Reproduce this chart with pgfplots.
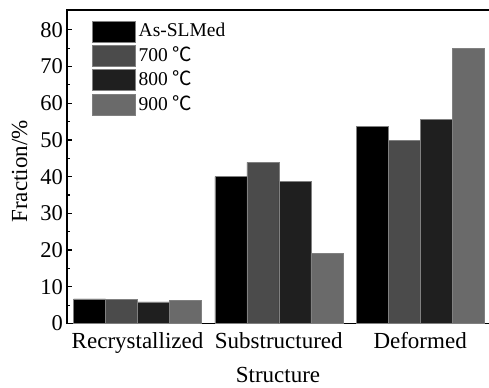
\documentclass[border=0pt]{standalone}
\usepackage{pgfplots}
\pgfplotsset{compat=1.18}
\usepackage{fontspec}
\setmainfont{Liberation Serif}
\newfontfamily\cjk{Noto Sans CJK SC}

\definecolor{cAs}{HTML}{000000}
\definecolor{cSeven}{HTML}{4B4B4B}
\definecolor{cEight}{HTML}{1F1F1F}
\definecolor{cNine}{HTML}{6A6A6A}

\newcommand{\degC}{\hspace{5bp}{\cjk ℃}}

\begin{document}
\begin{tikzpicture}
\begin{axis}[
  at={(0,0)}, anchor=south west,
  scale only axis,
  width=430bp, height=313.5bp,
  xmin=-0.499, xmax=2.544,
  ymin=0, ymax=85.4,
  ybar=0pt, bar width=32bp,
  xtick={0,1,2},
  xticklabels={Recrystallized,Substructured,Deformed},
  xtick style={draw=none},
  ytick={0,10,...,80},
  minor y tick num=1,
  ytick pos=left,
  tick align=inside,
  major tick length=5bp, minor tick length=3bp,
  tick style={black, line width=1.2bp},
  axis line style={black, line width=1.6bp},
  /pgf/number format/assume math mode=true,
  yticklabel style={font=\fontsize{22.5bp}{26bp}\selectfont, inner xsep=0pt, xshift=-4bp},
  xticklabel style={font=\fontsize{23bp}{27bp}\selectfont, anchor=base, yshift=-24.5bp},
  xlabel={Structure},
  ylabel={Fraction/\%},
  every axis x label/.style={at={(axis description cs:0.4907,0)}, anchor=base, yshift=-58.5bp, font=\fontsize{23bp}{27bp}\selectfont},
  every axis y label/.style={at={(axis description cs:-0.093,0.485)}, rotate=90, anchor=base, font=\fontsize{23bp}{27bp}\selectfont},
  legend image code/.code={\draw[#1] (0bp,-11.5bp) rectangle (43bp,9.5bp);},
  legend cell align=left,
  legend style={at={(axis description cs:0.058,0.966)}, anchor=north west,
    draw=none, fill=none, inner sep=0pt, row sep=2.7bp,
    font=\fontsize{19.5bp}{23bp}\selectfont,
    nodes={inner ysep=0pt, inner xsep=3bp}},
]
\addplot[fill=cAs, draw=gray, line width=0.6bp] coordinates {(0,6.7) (1,40.0) (2,53.6)};
\addplot[fill=cSeven, draw=gray, line width=0.6bp] coordinates {(0,6.5) (1,43.9) (2,49.8)};
\addplot[fill=cEight, draw=gray, line width=0.6bp] coordinates {(0,5.9) (1,38.8) (2,55.6)};
\addplot[fill=cNine, draw=gray, line width=0.6bp] coordinates {(0,6.2) (1,19.1) (2,75.0)};
\legend{As-SLMed, 700\degC, 800\degC, 900\degC}
\end{axis}
\pgfresetboundingbox
\path[use as bounding box] (-67bp,-64.5bp) rectangle (422bp,323.5bp);
\end{tikzpicture}
\end{document}
